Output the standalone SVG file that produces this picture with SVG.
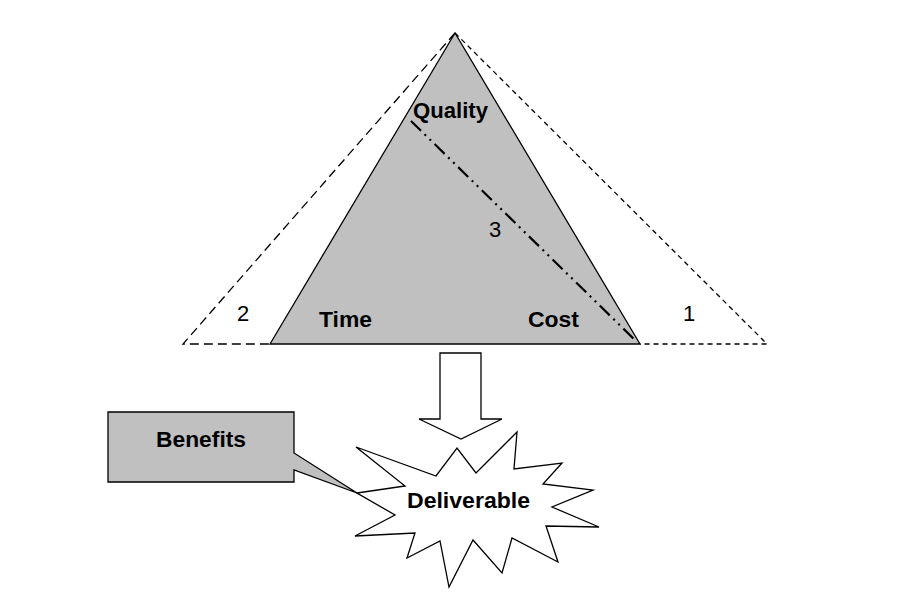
<svg xmlns="http://www.w3.org/2000/svg" width="900" height="615" viewBox="0 0 900 615">
<style>
.b{font-family:"Liberation Sans",Arial,sans-serif;font-weight:bold;font-size:22px;fill:#000}
.r{font-family:"Liberation Sans",Arial,sans-serif;font-size:22px;fill:#000}
.ol{stroke:#000;stroke-width:1.3;fill:none}
</style>
<rect width="900" height="615" fill="#fff"/>
<g id="triangle">
<polygon points="455,33 270,344 640,344" fill="#c0c0c0" stroke="#000" stroke-width="1.3"/>
</g>
<g id="connectors">
<polyline points="455,33 183,344 270,344" class="ol" stroke-dasharray="9,5"/>
<polyline points="455,33 767,344 640,344" class="ol" stroke-dasharray="5,4"/>
<line x1="411" y1="121" x2="637" y2="342" stroke="#000" stroke-width="2.2" stroke-dasharray="14,5,2,5,2,5"/>
</g>
<g id="labels">
<text class="b" x="413" y="118" textLength="75" lengthAdjust="spacingAndGlyphs">Quality</text>
<text class="r" x="489" y="237">3</text>
<text class="r" x="237" y="321">2</text>
<text class="r" x="683" y="321">1</text>
<text class="b" x="319" y="327" textLength="53" lengthAdjust="spacingAndGlyphs">Time</text>
<text class="b" x="528" y="327" textLength="51" lengthAdjust="spacingAndGlyphs">Cost</text>
</g>
<g id="arrow">
<polygon points="440,353 481,353 481,419 502,419 461,439 419,419 440,419" fill="#fff" stroke="#000" stroke-width="1.3"/>
</g>
<g id="benefits">
<polygon points="108,412 294,412 294,453 357,493 294,470 294,482 108,482" fill="#c0c0c0" stroke="#000" stroke-width="1.3"/>
<text class="b" x="156" y="447" textLength="90" lengthAdjust="spacingAndGlyphs">Benefits</text>
</g>
<g id="deliverable">
<polygon points="357,493 405,486 356,447 436,476 457,448 476,473 517,432 514,469 562,463 543,484 593,490 552,507 599,527 546,526 558,562 512,538 502,573 473,540 449,587 440,541 407,558 415,533 355,536 395,515" fill="#fff" stroke="#000" stroke-width="1.3" stroke-linejoin="miter"/>
<text class="b" x="407" y="508" textLength="123" lengthAdjust="spacingAndGlyphs">Deliverable</text>
</g>
</svg>
